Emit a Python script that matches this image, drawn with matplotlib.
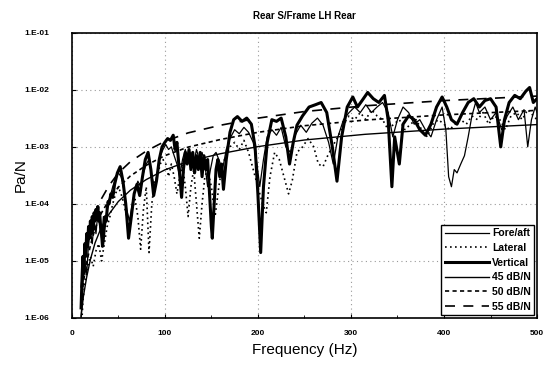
import math
import matplotlib
matplotlib.use("Agg")
import matplotlib.pyplot as plt
from matplotlib.ticker import FixedLocator, FuncFormatter

plt.rcParams['font.family'] = ['Liberation Sans', 'DejaVu Sans']

vert_f = [10, 11, 12, 13, 14, 15, 16, 17, 18, 19, 20, 21, 22, 23, 24, 25, 26, 27, 28, 29,
          30, 31, 32, 33, 34, 35, 36, 37, 38, 39, 40, 42, 44, 46, 49, 52, 55, 58, 61,
          64, 67, 70, 73, 76, 79, 82, 85, 88, 91, 94, 97, 100, 103, 106, 109, 111, 113, 115,
          117, 118, 120, 122, 124, 126, 128, 130, 132, 134, 136, 138, 140, 142, 144, 146,
          148, 150, 151, 153, 155, 157, 159, 161, 163, 166,
          170, 174, 178, 183, 188, 193, 197, 200, 203, 206, 210, 215, 220, 225, 230, 234,
          238, 242, 248, 255, 262, 268, 274, 280, 285, 290, 296, 302, 307, 312, 318, 324,
          330, 336, 340, 344, 347, 352, 356, 362, 368, 374, 380, 386, 392, 398, 403, 408,
          414, 420, 426, 432, 438, 444, 450, 456, 461, 465, 470, 476, 482, 488, 492, 496, 500]
vert_v = [1.5e-6, 5e-6, 1.2e-5, 6e-6, 2e-5, 1.2e-5, 3e-5, 1.8e-5, 4e-5, 2.5e-5, 5e-5,
          3e-5, 6e-5, 3.5e-5, 7e-5, 5e-5, 8e-5, 6e-5, 9e-5, 5e-5, 7e-5, 4e-5, 3e-5, 1.8e-5,
          2.5e-5, 4e-5, 6e-5, 5e-5, 8e-5, 1.1e-4, 1e-4, 1.5e-4, 1.3e-4, 2.2e-4, 3.5e-4,
          4.5e-4, 2.5e-4, 1e-4, 2.5e-5, 6e-5, 1.5e-4, 2.2e-4,
          1.4e-4, 3e-4, 6e-4, 8e-4, 4e-4, 1.4e-4, 2.5e-4, 6e-4, 1e-3, 1.2e-3, 1.4e-3, 1.3e-3,
          1.6e-3, 9e-4, 1.2e-3, 5e-4, 2e-4, 1.3e-4, 4e-4, 8e-4, 5e-4, 9e-4, 4e-4, 8e-4,
          3.5e-4, 7e-4, 4e-4, 8e-4, 3e-4, 7e-4, 4e-4, 6e-4, 1.5e-4, 4e-5, 2.5e-5, 1e-4,
          4e-4, 6e-4, 3e-4, 5e-4, 1.8e-4, 6e-4,
          1.8e-3, 3e-3, 3.4e-3, 2.8e-3, 3.2e-3,
          2.5e-3, 1e-3, 1.5e-4, 1.4e-5, 2e-4, 1.2e-3, 3e-3, 2.8e-3, 3.2e-3, 1.5e-3, 5e-4,
          1.2e-3, 2.4e-3, 3.5e-3, 5e-3, 5.5e-3, 6e-3, 4e-3, 1e-3, 2.5e-4, 1.5e-3, 5e-3,
          7.5e-3, 5e-3, 6.5e-3, 9e-3, 7e-3, 6e-3, 8e-3, 3e-3, 2e-4, 1.5e-3, 5e-4, 2.5e-3,
          3.5e-3, 3e-3, 2e-3, 1.6e-3, 2.5e-3, 5e-3, 7.5e-3, 5e-3, 3e-3, 2.5e-3, 4e-3, 6e-3,
          7e-3, 5e-3, 6.5e-3, 7e-3, 5e-3, 1e-3, 3e-3, 6e-3, 8e-3, 7e-3, 9.5e-3, 1.1e-2,
          6e-3, 7e-3]

fore_f = [10, 12, 14, 16, 18, 20, 22, 24, 26, 28, 30, 32, 34, 36, 38, 41, 44, 47, 50, 53,
          56, 59, 62, 65,
          68, 71, 74, 77, 80, 83, 86, 89, 92, 95, 98, 101, 104, 107, 110, 113, 116, 119, 122,
          125, 128, 131, 134, 137, 140, 143, 146, 149, 152, 155, 158, 162, 166, 170, 175,
          180, 185, 190, 195, 199, 202, 206, 210, 215, 220, 225, 230, 235, 240, 246, 252,
          258, 264, 270, 276, 281, 286, 292, 298, 304, 310, 316, 322, 328, 334, 340, 345,
          350, 356, 362, 368, 374, 380, 386, 392, 398, 402, 405, 408, 411, 414, 418, 422,
          426, 430, 434, 438, 444, 450, 456, 462, 468, 474, 480, 486, 490, 494, 498, 500]
fore_v = [1e-6, 4e-6, 1e-5, 6e-6, 2e-5, 3.5e-5, 2e-5, 5e-5, 3e-5, 7e-5, 4e-5, 2.5e-5,
          6e-5, 4e-5, 9e-5, 1.3e-4,
          2e-4, 2.8e-4, 3.5e-4, 3e-4, 1.8e-4, 8e-5, 5e-5, 1e-4, 1.8e-4, 2.5e-4, 2e-4,
          3.5e-4, 5e-4, 6e-4, 3e-4, 2e-4, 3.5e-4, 7e-4, 9e-4, 1.1e-3, 9e-4, 1e-3, 7e-4,
          5e-4, 3e-4, 6e-4, 9e-4, 6e-4, 8e-4, 5e-4, 9e-4, 6e-4, 8e-4, 5e-4, 2e-4, 4e-4,
          7e-4, 8e-4, 6e-4, 4e-4, 9e-4, 1.4e-3, 2e-3, 1.7e-3, 2.2e-3, 1.8e-3, 1.2e-3, 5e-4,
          2e-4, 6e-4, 1.5e-3, 2e-3, 1.6e-3, 2.2e-3, 1e-3, 8e-4, 1.6e-3, 2.4e-3, 1.8e-3,
          2.6e-3, 3.2e-3, 2.4e-3, 1.2e-3, 5e-4, 1.5e-3, 3e-3, 4e-3, 5e-3, 4e-3, 5.5e-3,
          4e-3, 5e-3, 6e-3, 4e-3, 1.5e-3, 3e-3, 5e-3, 4e-3, 2.5e-3, 3e-3, 2e-3, 1.5e-3,
          3e-3, 5e-3, 2e-3, 3e-4, 2e-4, 4e-4, 3.5e-4, 5e-4, 7e-4, 1.5e-3, 3.5e-3, 6e-3,
          4e-3, 5e-3, 3e-3, 4e-3, 2e-3, 3.5e-3, 5e-3, 3e-3, 4.5e-3, 1e-3, 3e-3, 5e-3, 4e-3]

lat_f = [10, 12, 14, 17, 20, 23, 26, 29, 32, 35, 38, 41, 44, 47, 50, 53, 56, 59, 62, 65,
         68, 71, 74, 77, 80, 83, 86, 89, 92, 95, 98, 101, 104, 107, 110, 113, 116, 119, 122,
         125, 128, 131, 134, 137, 140, 143, 146, 150, 154, 158, 162, 166, 170, 175, 180,
         185, 190, 195, 200, 205, 209, 213, 218, 223, 228, 233, 237, 242, 248, 254, 260,
         265, 270, 275, 280, 286, 292, 298, 304, 310, 316, 322, 328, 334, 340, 346, 352,
         358, 364, 370, 376, 382, 388, 394, 400, 406, 412, 418, 424, 430, 436, 442, 448,
         454, 460, 466, 472, 478, 484, 490, 496, 500]
lat_v = [5e-7, 2e-6, 4e-6, 8e-6, 1.2e-5, 8e-6, 1.5e-5, 2e-5, 1e-5, 2e-5, 4e-5, 6e-5, 1e-4,
         1.5e-4, 2e-4, 1.5e-4, 1e-4, 6e-5, 4e-5, 8e-5, 1.2e-4, 6e-5, 1.6e-5, 8e-5, 2e-4,
         1.4e-5, 1e-4, 2.5e-4, 3e-4, 5e-4, 6e-4, 5e-4, 3e-4, 5e-4, 3e-4, 1.5e-4, 3e-4,
         5e-4, 2e-4, 6e-5, 2e-4, 4e-4, 1e-4, 2.5e-5, 1e-4, 3e-4, 4e-4, 2e-4, 6e-5, 2e-4,
         5e-4, 7e-4, 1e-3, 1.2e-3, 9e-4, 1.3e-3, 8e-4, 4e-4, 2e-4, 1e-4, 7e-5, 3e-4, 8e-4,
         6e-4, 3e-4, 1.5e-4, 2.6e-4, 8e-4, 1e-3, 1.4e-3, 1e-3, 5e-4, 4.5e-4, 7e-4, 1e-3,
         1.5e-3, 2.5e-3, 3.5e-3, 3e-3, 4e-3, 3e-3, 4.5e-3, 3.5e-3, 3e-3, 2e-3, 2.5e-3,
         3e-3, 2e-3, 2.5e-3, 3e-3, 2e-3, 1.5e-3, 2.5e-3, 3e-3, 2.5e-3, 2e-3, 2.5e-3, 3e-3,
         2.5e-3, 3.5e-3, 3e-3, 4e-3, 2.5e-3, 3.5e-3, 3e-3, 2e-3, 3.5e-3, 4e-3, 3e-3,
         4.5e-3, 3.5e-3, 3e-3]

# target level curves
ref_f = [10, 12.5, 16, 20, 25, 31.5, 40, 50, 63, 80, 100, 125, 160, 200, 250, 315, 400, 500]
db45 = [1.07e-6, 2.4e-6, 5.2e-6, 1.06e-5, 2.07e-5, 3.8e-5, 6.6e-5, 1.1e-4, 1.74e-4,
        2.67e-4, 3.95e-4, 5.57e-4, 7.6e-4, 1.01e-3, 1.32e-3, 1.66e-3, 2.05e-3, 2.46e-3]
db50 = [1.9e-6, 4.27e-6, 9.2e-6, 1.88e-5, 3.68e-5, 6.76e-5, 1.17e-4, 1.96e-4, 3.09e-4,
        4.75e-4, 7.02e-4, 9.9e-4, 1.35e-3, 1.8e-3, 2.35e-3, 2.95e-3, 3.64e-3, 4.37e-3]
db55 = [3.38e-6, 7.6e-6, 1.64e-5, 3.35e-5, 6.55e-5, 1.2e-4, 2.09e-4, 3.48e-4, 5.5e-4,
        8.44e-4, 1.25e-3, 1.76e-3, 2.4e-3, 3.19e-3, 4.17e-3, 5.25e-3, 6.48e-3, 7.78e-3]

x_ticks = [0, 100, 200, 300, 400, 500]
y_ticks = [1e-6, 1e-5, 1e-4, 1e-3, 1e-2, 1e-1]

fig = plt.figure(figsize=(5.48, 3.65), dpi=100)
ax = fig.add_axes([0.131, 0.129, 0.849, 0.781])

ax.plot(fore_f, fore_v, color='black', lw=0.9, label='Fore/aft')
ax.plot(lat_f, lat_v, color='black', lw=1.2, ls=(0, (1, 2)), label='Lateral')
ax.plot(vert_f, vert_v, color='black', lw=2.2, label='Vertical')
ax.plot(ref_f, db45, color='black', lw=1.0, label='45 dB/N')
ax.plot(ref_f, db50, color='black', lw=1.2, ls=(0, (2.5, 2)), label='50 dB/N')
ax.plot(ref_f, db55, color='black', lw=1.2, ls=(0, (6, 5)), label='55 dB/N')

ax.set_yscale('log')
ax.set_xlim(0, 500)
ax.set_ylim(1e-6, 1e-1)
ax.xaxis.set_major_locator(FixedLocator(x_ticks))
ax.xaxis.set_minor_locator(FixedLocator([50, 150, 250, 350, 450]))
ax.yaxis.set_major_locator(FixedLocator(y_ticks))
ax.yaxis.set_minor_locator(FixedLocator([]))
ax.yaxis.set_major_formatter(FuncFormatter(lambda v, p: '1.E-%02d' % round(-math.log10(v))))
ax.tick_params(direction='in', length=3, labelsize=6)
ax.tick_params(axis='x', pad=9)
ax.tick_params(axis='y', pad=16)
ax.tick_params(which='minor', direction='in', length=2)
for lab in ax.get_xticklabels() + ax.get_yticklabels():
    lab.set_fontweight('bold')

ax.grid(True, which='major', color='#999999', ls=(0, (1, 3)), lw=0.8)
for s in ax.spines.values():
    s.set_linewidth(1.2)

ax.set_title('Rear S/Frame LH Rear', fontsize=7, fontweight='bold', pad=10)
ax.set_xlabel('Frequency (Hz)', fontsize=11)
ax.set_ylabel('Pa/N', fontsize=11)
ax.yaxis.set_label_coords(-0.095, 0.5)

leg = ax.legend(loc='lower right', fontsize=7.5, handlelength=4.2, framealpha=1,
                fancybox=False, edgecolor='black', borderaxespad=0.25,
                labelspacing=0.45, borderpad=0.35, handletextpad=0.3)
leg.get_frame().set_linewidth(1.0)
for t in leg.get_texts():
    t.set_fontweight('bold')

fig.savefig('out.png', dpi=100)
